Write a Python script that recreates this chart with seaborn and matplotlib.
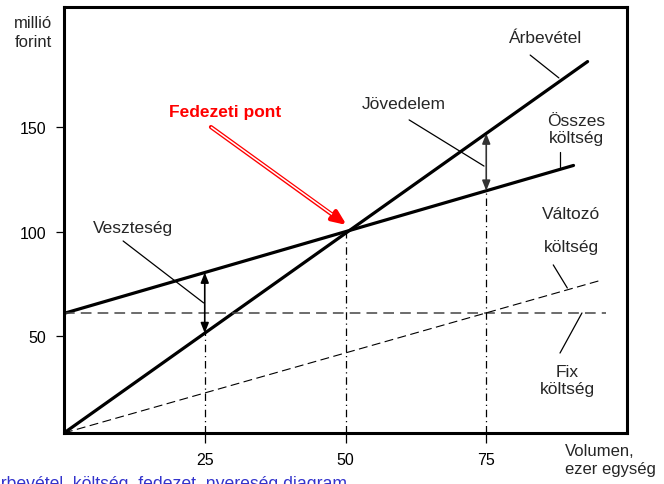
import numpy as np
import matplotlib.pyplot as plt
import seaborn as sns

# values (x: ezer egység, y: millió forint)
volume = [0, 93]
revenue = [4, 181]
total_cost_x = [0, 90.5]
total_cost = [61, 131.5]
fix_cost_x = [0, 96.3]
fix_cost = [61, 61]
var_cost_x = [0, 95]
var_cost = [4, 76.5]
x_ticks = [25, 50, 75]
y_ticks = [50, 100, 150]
breakeven = (50, 100)


def rev_at(x):
    return np.interp(x, volume, revenue)


def cost_at(x):
    return np.interp(x, total_cost_x, total_cost)


sns.set_theme(style='white')
plt.rcParams['font.family'] = ['Liberation Sans', 'DejaVu Sans']

fig = plt.figure(figsize=(6.64, 4.85), dpi=100)
ax = fig.add_axes([64 / 664, 1 - 434 / 485, 563 / 664, 426 / 485])

sns.lineplot(x=volume, y=revenue, ax=ax, color='black', lw=2.3)
sns.lineplot(x=total_cost_x, y=total_cost, ax=ax, color='black', lw=2.3)
sns.lineplot(x=fix_cost_x, y=fix_cost, ax=ax, color='#444444', lw=1.1, linestyle=(0, (7, 4)))
sns.lineplot(x=var_cost_x, y=var_cost, ax=ax, color='black', lw=0.8, linestyle=(0, (8, 4)))

ax.set_xlim(0, 100)
ax.set_ylim(4, 207)

# dash-dot guides
ylo = 4
for xv, top in [(25, rev_at(25)), (50, breakeven[1]), (75, cost_at(75))]:
    ax.plot([xv, xv], [ylo, top], color='black', lw=0.9, linestyle=(0, (6, 3, 1, 3)))

# double arrows: loss and profit
ax.annotate('', xy=(25, cost_at(25)), xytext=(25, rev_at(25)),
            arrowprops=dict(arrowstyle='<|-|>,head_length=0.5,head_width=0.2', color='black', lw=1.2,
                            shrinkA=0, shrinkB=0))
ax.annotate('', xy=(75, rev_at(75)), xytext=(75, cost_at(75)),
            arrowprops=dict(arrowstyle='<|-|>,head_length=0.5,head_width=0.2', color='#333333', lw=1.2,
                            shrinkA=0, shrinkB=0))

fs = 12.5
# labels and leader lines
ax.text(85.5, 192.7, 'Árbevétel', ha='center', va='center', fontsize=fs)
ax.plot([82.8, 87.9], [184.1, 173.2], color='black', lw=0.9)
ax.text(91.0, 148.9, 'Összes\nköltség', ha='center', va='center', fontsize=fs, linespacing=1.2)
ax.plot([88.1, 88.1], [137.9, 130.8], color='black', lw=0.9)
ax.text(60.3, 160.8, 'Jövedelem', ha='center', va='center', fontsize=fs)
ax.plot([61.3, 74.6], [153.2, 131.2], color='black', lw=0.9)
ax.text(12.2, 101.7, 'Veszteség', ha='center', va='center', fontsize=fs)
ax.plot([10.5, 24.8], [95.5, 66.0], color='black', lw=0.9)
ax.text(90.1, 108.4, 'Változó', ha='center', va='center', fontsize=fs)
ax.text(90.1, 93.1, 'költség', ha='center', va='center', fontsize=fs)
ax.plot([86.9, 89.4], [84.1, 73.1], color='black', lw=0.9)
ax.text(89.4, 29.3, 'Fix\nköltség', ha='center', va='center', fontsize=fs, linespacing=1.15)
ax.plot([92.0, 88.1], [61.2, 42.1], color='black', lw=0.9)

# break-even point
ax.text(28.7, 157.4, 'Fedezeti pont', ha='center', va='center', fontsize=fs,
        color='red', fontweight='bold')
ax.annotate('', xy=(50.2, 103.1), xytext=(26.1, 149.8),
            arrowprops=dict(arrowstyle='-|>,head_length=0.7,head_width=0.3', color='red', lw=3.0,
                            shrinkA=0, shrinkB=0))
ax.plot([26.1, 47.6], [149.8, 108.2], color='white', lw=1.1, solid_capstyle='butt', zorder=6)

# axes styling
for s in ax.spines.values():
    s.set_color('black')
    s.set_linewidth(2.2)
ax.set_xticks(x_ticks)
ax.set_yticks(y_ticks)
ax.tick_params(axis='x', direction='out', length=7, width=0.9, pad=7, labelsize=11.5, colors='black')
ax.tick_params(axis='y', direction='out', length=6, width=0.9, pad=7, labelsize=11.5, colors='black')
ax.xaxis.set_ticks_position('bottom')
ax.yaxis.set_ticks_position('left')
ax.grid(False)

fig.text(33 / 664, 1 - 33 / 485, 'millió\nforint', ha='center', va='center', fontsize=12, linespacing=1.3)
fig.text(565 / 664, 1 - 461 / 485, 'Volumen,\nezer egység', ha='left', va='center', fontsize=12, linespacing=1.25)
# caption, cut off by the figure edge as in the original
fig.text(-11 / 664, 1 - 473 / 485, 'Árbevétel, költség, fedezet, nyereség diagram', ha='left', va='top',
         fontsize=12.7, color='#3333cc')

fig.savefig('out.png', dpi=100)
